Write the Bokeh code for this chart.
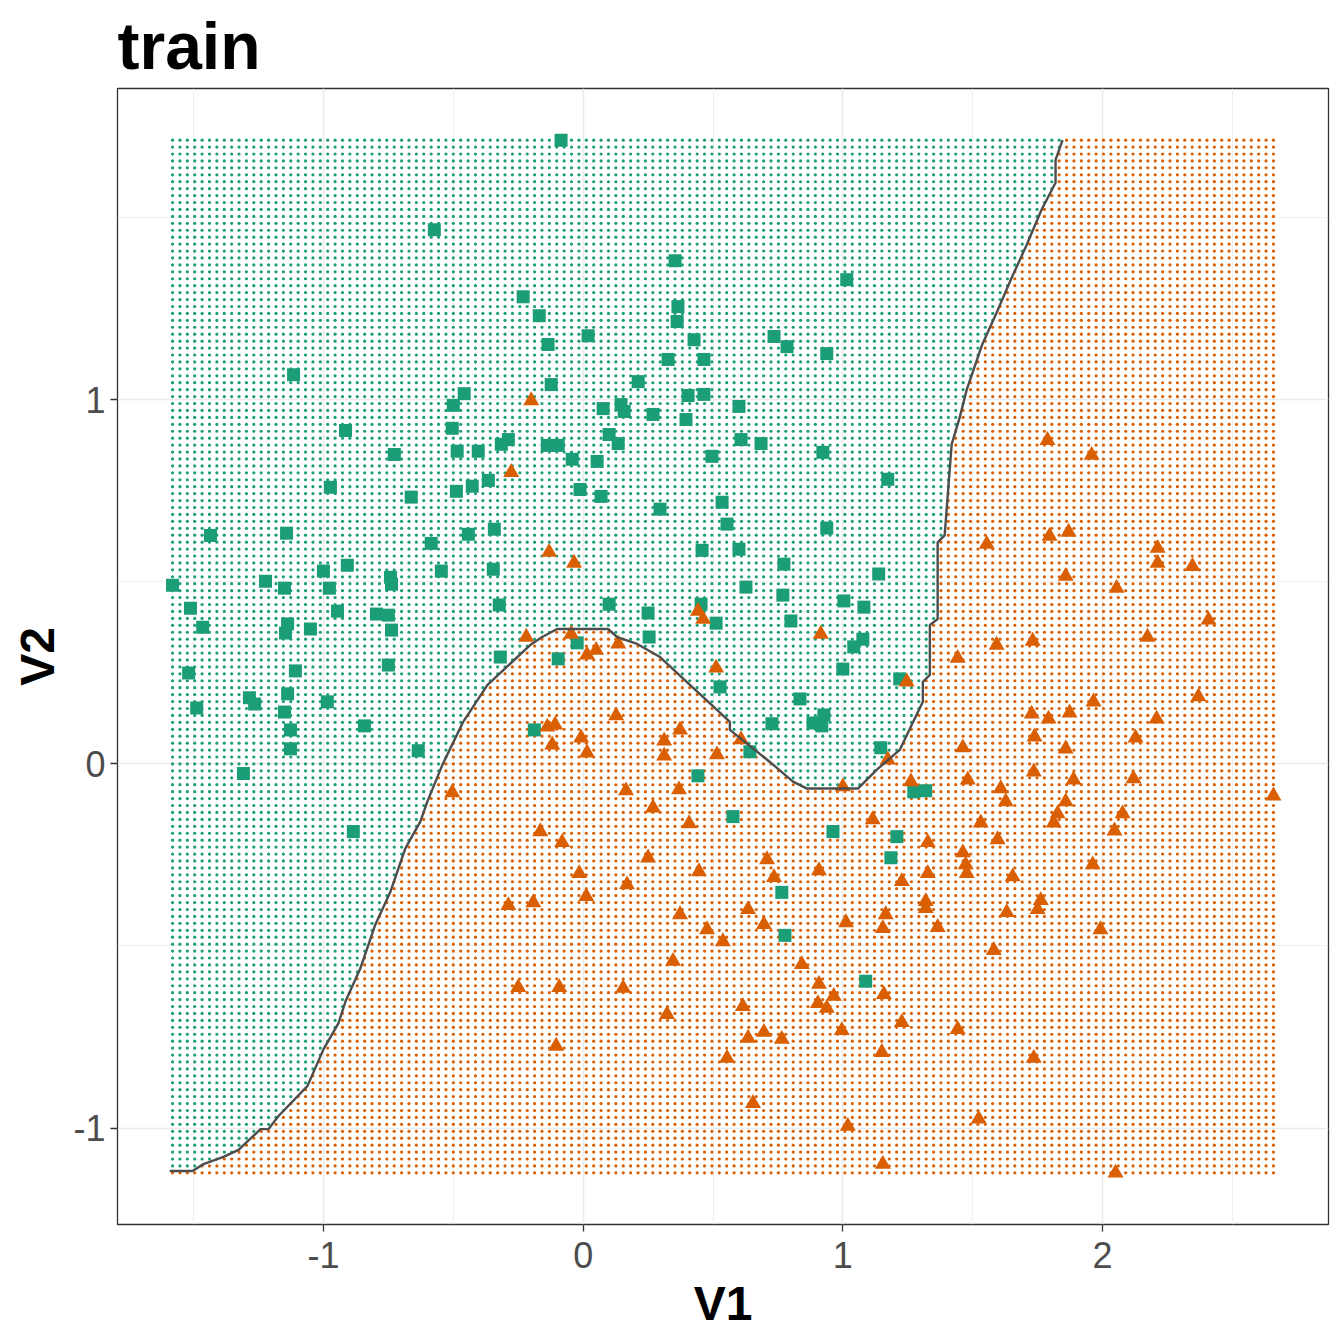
import numpy as np
from bokeh.plotting import figure
from bokeh.models import Range1d, FixedTicker, ColumnDataSource
from bokeh.embed import file_html
from bokeh.resources import INLINE

# ---- data ----
title_text = "train"
x_label = "V1"
y_label = "V2"
x_ticks = [-1, 0, 1, 2]
x_minor = [-1.5, -0.5, 0.5, 1.5, 2.5]
y_ticks = [-1, 0, 1]
y_minor = [-0.5, 0.5, 1.5]

# class 1 (green squares)
sq_x = [-0.573, -0.231, -0.169, -1.115, -0.458, -0.500, -0.504, -0.915, -0.288, -0.315,
        -0.485, -0.404, -0.727, -0.365, -0.085, 0.354, 1.015, 0.365, 0.362, 0.019,
        -0.135, 0.427, 0.735, 0.785, 0.938, 0.327, 0.465, -0.123, 0.212, 0.404,
        0.465, 0.600, 0.077, 0.146, 0.158, 0.269, 0.396, 0.100, 0.135, 0.608,
        0.685, -0.138, -0.096, -0.042, 0.054, 0.496, 0.923, 1.173, -0.973, -0.662,
        -0.488, -0.427, -1.435, -1.142, -0.585, -0.442, -0.342, -1.000, -0.908, -0.742,
        -0.546, -0.346, -1.581, -1.223, -1.150, -0.977, -0.738, -1.512, -0.946, -0.796,
        -0.750, -0.323, -1.465, -1.138, -1.146, -1.050, -0.738, -0.319, -0.750, -1.519,
        -1.108, -0.188, -1.285, -1.265, -1.138, -0.985, -1.488, -1.150, -1.127, -0.842,
        -1.127, -0.635, -1.308, -0.885, -0.012, 0.069, 0.296, 0.535, 0.554, 0.938,
        0.458, 0.600, 0.773, 1.138, 0.627, 0.769, 1.004, 1.081, 0.100, 0.250,
        0.454, 0.512, 0.800, 0.254, -0.023, -0.096, 1.042, 1.077, 1.000, 1.219,
        0.527, 0.835, 0.927, 0.885, 0.919, 0.727, 0.642, 1.146, 0.442, 0.577,
        0.962, 1.273, 1.319, 1.208, 1.185, 0.765, 0.777, 1.088]
sq_y = [1.466, 1.282, 1.230, 1.068, 1.016, 0.984, 0.921, 0.915, 0.890, 0.877,
        0.858, 0.858, 0.849, 0.778, 1.712, 1.381, 1.329, 1.255, 1.214, 1.175,
        1.151, 1.164, 1.173, 1.145, 1.126, 1.110, 1.110, 1.041, 1.049, 1.011,
        1.014, 0.981, 0.975, 0.986, 0.967, 0.959, 0.945, 0.904, 0.879, 0.890,
        0.879, 0.874, 0.874, 0.836, 0.830, 0.844, 0.855, 0.781, 0.759, 0.732,
        0.748, 0.762, 0.627, 0.633, 0.605, 0.630, 0.644, 0.529, 0.545, 0.512,
        0.529, 0.534, 0.490, 0.501, 0.482, 0.482, 0.493, 0.427, 0.419, 0.411,
        0.408, 0.436, 0.375, 0.384, 0.359, 0.370, 0.367, 0.293, 0.271, 0.249,
        0.255, 0.093, 0.181, 0.164, 0.192, 0.170, 0.153, 0.142, 0.093, 0.104,
        0.041, 0.036, -0.027, -0.186, 0.753, 0.734, 0.699, 0.718, 0.658, 0.647,
        0.586, 0.589, 0.548, 0.521, 0.485, 0.463, 0.447, 0.430, 0.438, 0.414,
        0.438, 0.386, 0.392, 0.348, 0.332, 0.288, 0.321, 0.342, 0.260, 0.233,
        0.211, 0.178, 0.134, 0.112, 0.104, 0.110, 0.033, 0.044, -0.033, -0.145,
        -0.186, -0.077, -0.074, -0.200, -0.258, -0.353, -0.471, -0.597]

# class 2 (orange triangles)
tr_x = [-0.200, -0.277, -0.131, -0.035, -0.219, -0.504, 0.442, 0.462, 0.915, -0.046,
        0.135, 0.015, 0.050, 0.512, 0.127, -0.138, -0.108, -0.119, -0.008, 0.015,
        0.312, 0.312, 0.373, 0.515, 0.608, 1.173, 1.000, 1.262, 0.165, 0.369,
        0.269, 0.408, 1.115, -0.165, 1.246, 1.788, 1.958, 1.554, 1.796, 1.869,
        2.212, 2.212, 2.346, 1.858, 2.054, 2.408, 2.173, 1.592, 1.731, 1.442,
        1.965, 2.369, 1.727, 1.792, 1.873, 2.208, 1.738, 2.127, 1.462, 1.858,
        1.481, 1.735, 1.888, 2.119, 1.608, 1.627, 1.858, 1.827, 1.812, 2.077,
        2.658, 1.531, 2.046, -0.081, 0.250, -0.015, 0.169, 0.446, 0.708, 0.735,
        0.908, 1.227, -0.192, 0.012, 0.373, 0.635, 0.696, 1.012, 1.165, 1.154,
        0.477, 0.538, 0.346, 0.842, -0.092, 0.154, 0.908, 0.965, 1.158, 0.615,
        0.904, 0.938, 0.323, 1.227, 0.996, 0.635, 0.696, 0.765, -0.104, 1.150,
        0.554, 0.654, 1.019, 1.154, 1.327, 1.596, 1.462, 1.473, 1.477, 1.327,
        1.962, 1.654, 1.319, 1.319, 1.762, 1.750, 1.631, 1.365, 1.992, 1.581,
        1.442, 1.735, 1.523, 2.050, -0.288, -0.250]
tr_y = [0.997, 0.800, 0.581, 0.551, 0.348, -0.079, 0.419, 0.397, 0.356, 0.356,
        0.329, 0.299, 0.312, 0.263, 0.132, 0.101, 0.107, 0.052, 0.071, 0.030,
        0.063, 0.022, 0.093, 0.025, 0.066, 0.011, -0.063, -0.049, -0.074, -0.071,
        -0.121, -0.164, -0.153, -0.186, 0.225, 0.888, 0.847, 0.603, 0.625, 0.636,
        0.592, 0.551, 0.542, 0.515, 0.482, 0.395, 0.348, 0.326, 0.337, 0.290,
        0.170, 0.184, 0.137, 0.123, 0.140, 0.123, 0.074, 0.071, 0.044, 0.041,
        -0.044, -0.022, -0.044, -0.041, -0.068, -0.104, -0.104, -0.137, -0.162, -0.137,
        -0.088, -0.162, -0.184, -0.216, -0.258, -0.301, -0.332, -0.296, -0.263, -0.312,
        -0.293, -0.323, -0.381, -0.364, -0.414, -0.400, -0.441, -0.436, -0.414, -0.452,
        -0.455, -0.488, -0.542, -0.551, -0.614, -0.616, -0.605, -0.638, -0.633, -0.666,
        -0.658, -0.671, -0.688, -0.710, -0.732, -0.753, -0.737, -0.756, -0.775, -0.792,
        -0.808, -0.932, -0.995, -1.099, -0.216, -0.208, -0.244, -0.277, -0.301, -0.301,
        -0.277, -0.310, -0.378, -0.397, -0.375, -0.400, -0.408, -0.449, -0.455, -0.512,
        -0.729, -0.808, -0.975, -1.123, -0.389, -0.614]

# decision boundary (contour)
bd_x = [-1.592, -1.504, -1.462, -1.385, -1.327, -1.242, -1.212, -1.173, -1.062, -1.000,
        -0.942, -0.915, -0.858, -0.800, -0.742, -0.685, -0.627, -0.600, -0.542, -0.462,
        -0.369, -0.204, -0.158, -0.100, 0.096, 0.131, 0.208, 0.296, 0.565, 0.565,
        0.719, 0.808, 0.862, 1.058, 1.131, 1.219, 1.258, 1.308, 1.308, 1.335,
        1.335, 1.365, 1.365, 1.392, 1.419, 1.450, 1.477, 1.535, 1.592, 1.650,
        1.708, 1.765, 1.819, 1.819, 1.846]
bd_y = [-1.118, -1.118, -1.099, -1.079, -1.060, -1.003, -1.003, -0.967, -0.885, -0.784,
        -0.712, -0.652, -0.562, -0.441, -0.351, -0.233, -0.159, -0.104, -0.003, 0.115,
        0.216, 0.326, 0.348, 0.370, 0.370, 0.348, 0.329, 0.293, 0.115, 0.093,
        0.005, -0.049, -0.068, -0.068, -0.016, 0.038, 0.096, 0.170, 0.225, 0.244,
        0.381, 0.397, 0.608, 0.627, 0.877, 0.951, 1.027, 1.148, 1.238, 1.334,
        1.425, 1.521, 1.595, 1.658, 1.712]

n_grid = 150
GREEN = "#1B9E77"
ORANGE = "#D95F02"

# ---- build the prediction grid over the data range ----
all_x = np.array(sq_x + tr_x)
all_y = np.array(sq_y + tr_y)
gx = np.linspace(all_x.min(), all_x.max(), n_grid)
gy = np.linspace(all_y.min(), all_y.max(), n_grid)
GX, GY = np.meshgrid(gx, gy)
GX = GX.ravel()
GY = GY.ravel()
is_green = GY > np.interp(GX, np.array(bd_x), np.array(bd_y))
grid_col = np.where(is_green, GREEN, ORANGE)
grid_src = ColumnDataSource(dict(x=GX, y=GY, c=grid_col))

xr = all_x.max() - all_x.min()
yr = all_y.max() - all_y.min()

p = figure(width=1336, height=1336, output_backend="svg", toolbar_location=None,
           x_range=Range1d(all_x.min() - 0.05 * xr, all_x.max() + 0.05 * xr),
           y_range=Range1d(all_y.min() - 0.05 * yr, all_y.max() + 0.05 * yr),
           min_border_left=117, min_border_right=8, min_border_top=87,
           min_border_bottom=112)

p.title.text = title_text
p.title.text_font = "Liberation Sans"
p.title.text_font_size = "66px"
p.title.text_font_style = "bold"
p.title.text_color = "black"
p.title.align = "left"
p.title.standoff = 12

p.background_fill_color = "white"
p.border_fill_color = "white"
p.outline_line_color = "#333333"
p.outline_line_width = 1.3

p.xaxis.ticker = FixedTicker(ticks=x_ticks, minor_ticks=x_minor)
p.yaxis.ticker = FixedTicker(ticks=y_ticks, minor_ticks=y_minor)
p.xaxis.major_label_overrides = {t: str(t) for t in x_ticks}
p.yaxis.major_label_overrides = {t: str(t) for t in y_ticks}
p.xaxis.axis_label = x_label
p.yaxis.axis_label = y_label
for ax in (p.xaxis, p.yaxis):
    ax.axis_line_color = None
    ax.major_tick_line_color = "#333333"
    ax.major_tick_line_width = 1.3
    ax.major_tick_out = 7
    ax.major_tick_in = 0
    ax.minor_tick_line_color = None
    ax.major_label_text_font = "Liberation Sans"
    ax.major_label_text_font_size = "36px"
    ax.major_label_text_color = "#4D4D4D"
    ax.axis_label_text_font = "Liberation Sans"
    ax.axis_label_text_font_size = "48px"
    ax.axis_label_text_font_style = "bold"
    ax.axis_label_text_color = "black"
    ax.axis_label_standoff = 6
p.xaxis.major_label_standoff = 10
p.yaxis.major_label_standoff = 5

for g in (p.xgrid, p.ygrid):
    g.grid_line_color = "#EBEBEB"
    g.grid_line_width = 1.6
    g.minor_grid_line_color = "#EBEBEB"
    g.minor_grid_line_width = 0.8

p.scatter("x", "y", source=grid_src, marker="circle", size=3.2,
          fill_color="c", line_color=None)
p.scatter(sq_x, sq_y, marker="square", size=13, fill_color=GREEN, line_color=None)
p.scatter(tr_x, tr_y, marker="triangle", size=16, fill_color=ORANGE, line_color=None)
p.line(bd_x, bd_y, line_color="#4D4D4D", line_width=2.4)

open("out.html", "w").write(file_html(p, INLINE))
